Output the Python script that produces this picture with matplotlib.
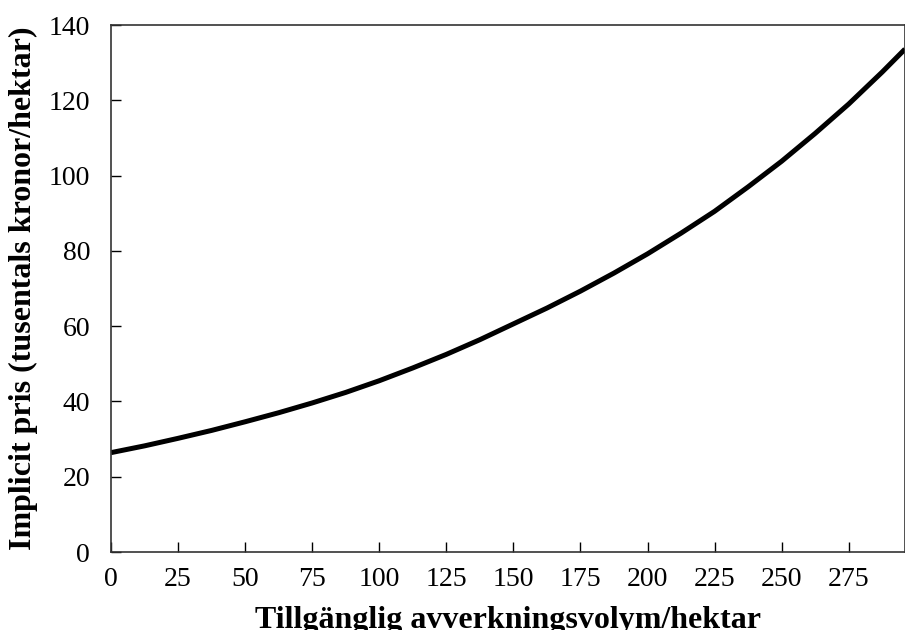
import matplotlib
matplotlib.use('Agg')
import matplotlib.pyplot as plt

# values
volym = [0, 12.5, 25, 37.5, 50, 62.5, 75, 87.5, 100, 112.5, 125, 137.5, 150,
         162.5, 175, 187.5, 200, 212.5, 225, 237.5, 250, 262.5, 275, 287.5, 296]
pris = [26.4, 28.2, 30.2, 32.3, 34.6, 37.0, 39.6, 42.4, 45.5, 48.9, 52.5, 56.4, 60.6,
        64.8, 69.3, 74.1, 79.2, 84.7, 90.5, 97.0, 103.8, 111.2, 119.0, 127.5, 133.6]

x_ticks = [0, 25, 50, 75, 100, 125, 150, 175, 200, 225, 250, 275]
y_ticks = [0, 20, 40, 60, 80, 100, 120, 140]

plt.rcParams['font.family'] = ['Liberation Serif', 'DejaVu Serif']

fig = plt.figure(figsize=(9.05, 6.3), dpi=100)
ax = fig.add_axes([0.1227, 0.1238, 0.8773, 0.8365])

ax.plot(volym, pris, color='black', linewidth=3.6, solid_capstyle='butt')

ax.set_xlim(0, 296)
ax.set_ylim(0, 140)
ax.set_xticks(x_ticks)
ax.set_yticks(y_ticks)
ax.tick_params(direction='in', length=7, width=1, labelsize=20)
ax.tick_params(axis='y', pad=15)
ax.tick_params(axis='x', pad=11)

for s in ax.spines.values():
    s.set_linewidth(1.2)
    s.set_color('#333333')

ax.set_xlabel('Tillgänglig avverkningsvolym/hektar', fontsize=23, fontweight='bold', labelpad=10)
ax.set_ylabel('Implicit pris (tusentals kronor/hektar)', fontsize=23, fontweight='bold', labelpad=8)

fig.savefig('out.png', dpi=100)
